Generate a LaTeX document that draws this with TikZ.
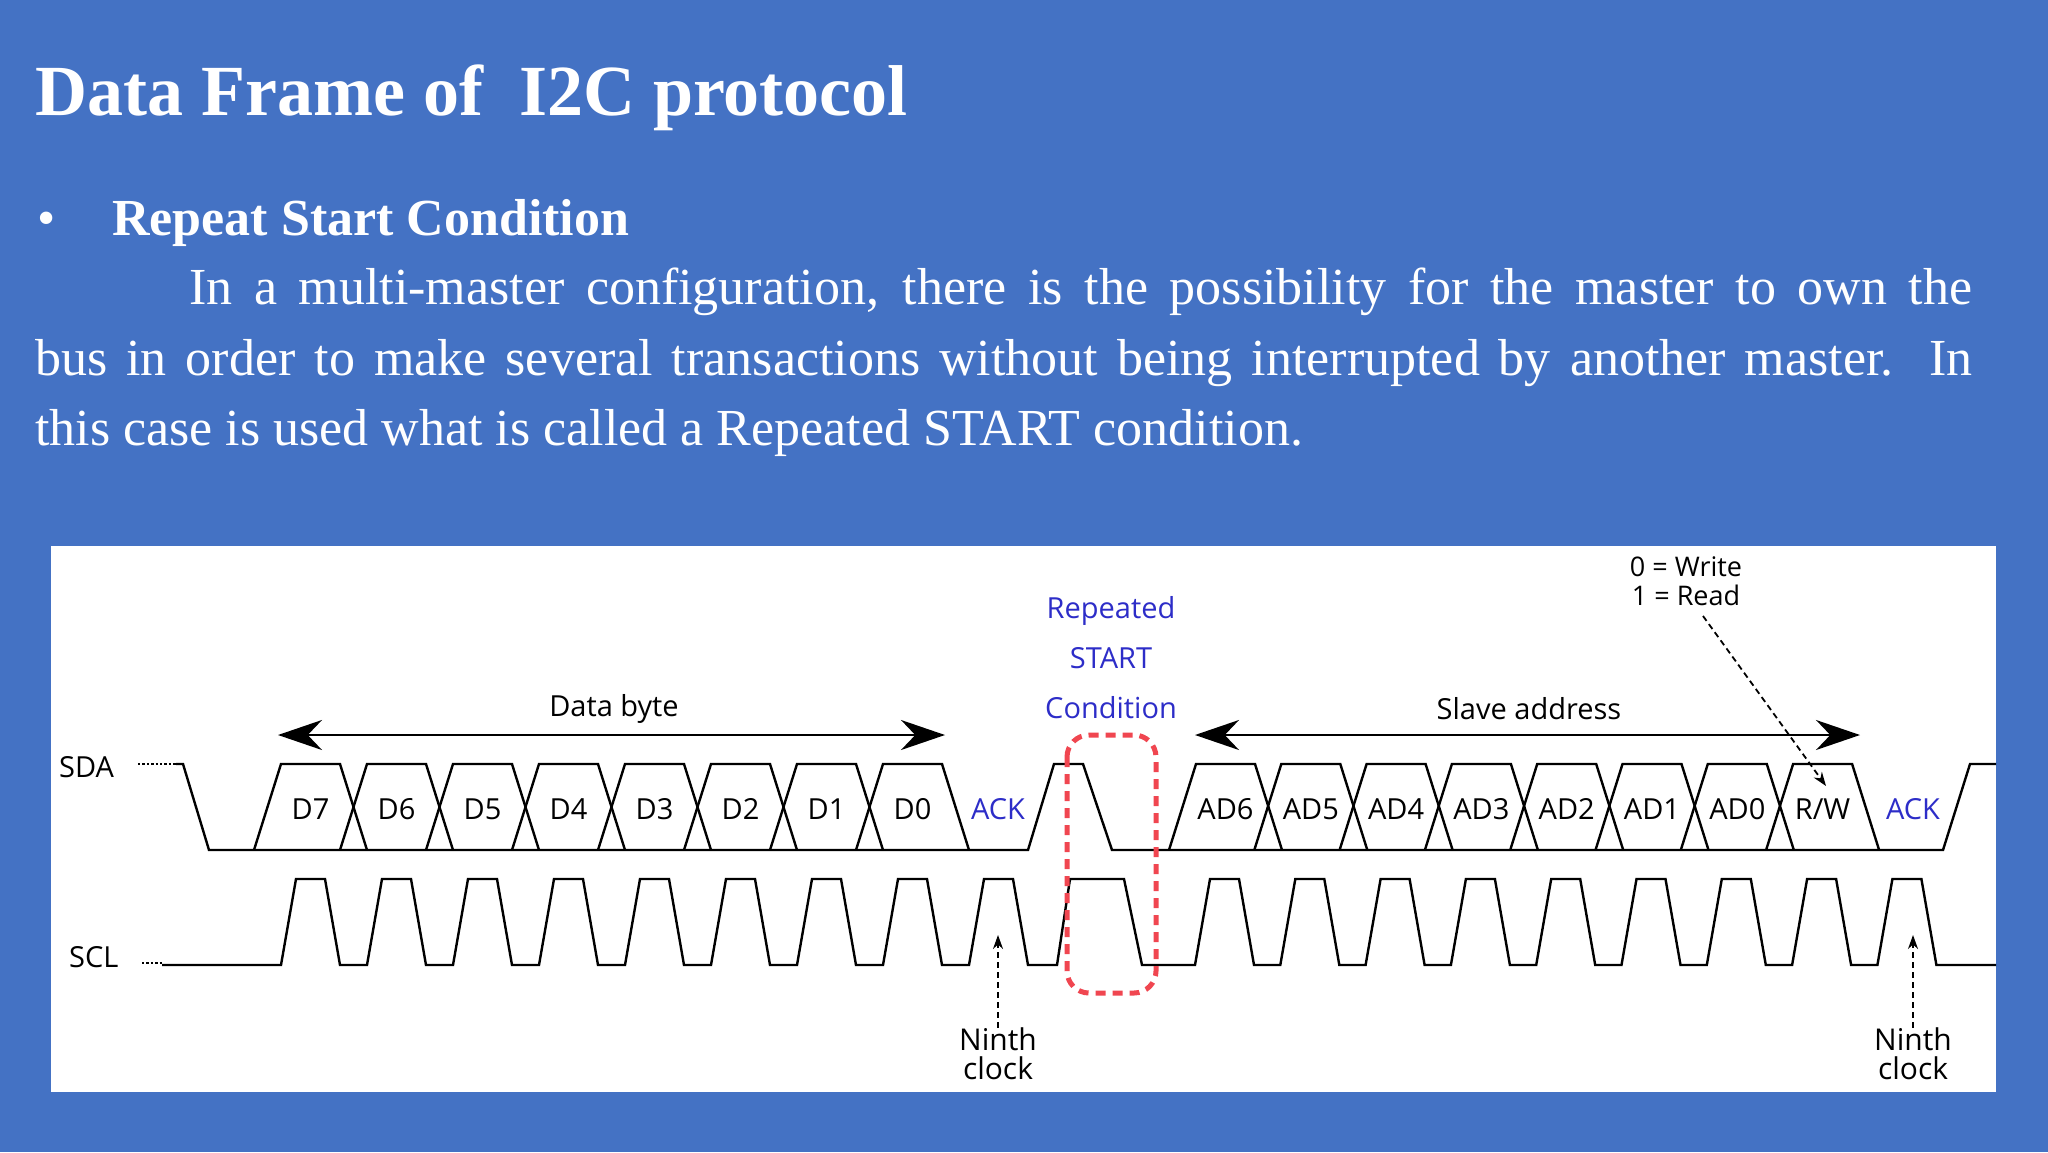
\documentclass[tikz,border=0pt]{standalone}
\usepackage{fontspec}
\setmainfont{Liberation Serif}
\newfontfamily\dsans{Open Sans}
\usetikzlibrary{arrows.meta}
\definecolor{bg}{RGB}{68,114,196}
\definecolor{ackblue}{RGB}{45,45,200}
\definecolor{rsred}{RGB}{240,70,80}
\tikzset{
  wave/.style={line width=2.4pt, line join=miter},
  lbl/.style={font=\dsans\fontsize{29}{34}\selectfont, inner sep=0pt},
  blbl/.style={lbl, text=ackblue},
  bigarrow/.style={line width=2.4pt, {Stealth[length=44pt,width=30pt]}-{Stealth[length=44pt,width=30pt]}},
  dasharrow/.style={line width=1.8pt, dash pattern=on 6pt off 4pt, -{Stealth[length=14pt,width=10pt]}},
  rsbox/.style={draw=rsred, line width=5pt, dash pattern=on 10pt off 7pt, rounded corners=22pt},
  white text/.style={text=white, inner sep=0pt}
}
\begin{document}
\begin{tikzpicture}[x=1pt,y=-1pt]
\useasboundingbox (0,0) rectangle (2048,1152);
\fill[bg] (0,0) rectangle (2048,1152);
\fill[white] (51,546) rectangle (1996,1092);
% texts
\node[white text, anchor=base west, font=\bfseries\fontsize{72}{80}\selectfont] (title) at (35,115) {Data Frame of \ I2C protocol};
\node[white text, anchor=base west, font=\fontsize{52}{60}\selectfont] (bul) at (37,235) {•};
\node[white text, anchor=base west, font=\bfseries\fontsize{52}{60}\selectfont] (head) at (112,235) {Repeat Start Condition};
\node[white text, anchor=base west, font=\fontsize{52}{60}\selectfont] (l1) at (189,304) {\makebox[1783pt][s]{In a multi-master configuration, there is the possibility for the master to own the}};
\node[white text, anchor=base west, font=\fontsize{52}{60}\selectfont] (l2) at (35,375) {\makebox[1937pt][s]{bus in order to make several transactions without being interrupted by another master. In}};
\node[white text, anchor=base west, font=\fontsize{52}{60}\selectfont] (l3) at (35,445) {this case is used what is called a Repeated START condition.};
% SDA
\node[lbl, anchor=west] (sda) at (59,767) {SDA};
\node[lbl, anchor=west] (scl) at (69,957) {SCL};
\draw[wave, dotted] (138,764) -- (176,764);
\draw[wave, dotted] (142,963) -- (162,963);
\draw[wave] (176,764) -- (183,764) -- (209,850) -- (1028,850) -- (1054,764) -- (1083,764) -- (1112,850) -- (1943,850) -- (1970,764) -- (1996,764);
\foreach \n [count=\i from 0] in {D7,D6,D5,D4,D3,D2,D1,D0}{
  \pgfmathsetmacro{\b}{254+86*\i}
  \draw[wave] (\b,850) -- (\b+27,764) -- (\b+86,764) -- (\b+113,850);
  \node[lbl] (d\i) at (\b+56.5,809) {\n};
}
\foreach \n [count=\i from 0] in {AD6,AD5,AD4,AD3,AD2,AD1,AD0,R/W}{
  \pgfmathsetmacro{\b}{1169+85.3*\i}
  \draw[wave] (\b,850) -- (\b+27,764) -- (\b+86,764) -- (\b+113,850);
  \node[lbl] (a\i) at (\b+56.5,809) {\n};
}
\node[blbl] (ack1) at (998,809) {ACK};
\node[blbl] (ack2) at (1913,809) {ACK};
% SCL
\draw[wave] (162,965) foreach \i in {0,...,8}{ -- ({281+86*\i},965) -- ({296+86*\i},879) -- ({325+86*\i},879) -- ({340+86*\i},965) }
  -- (1057,965) -- (1070,879) -- (1124,879) -- (1142,965)
  foreach \i in {0,...,8}{ -- ({1195+85.3*\i},965) -- ({1210+85.3*\i},879) -- ({1239+85.3*\i},879) -- ({1254+85.3*\i},965) }
  -- (1996,965);
% repeated start box
\draw[rsbox] (1067,735) rectangle (1156,993);
\node[blbl, align=center, font=\dsans\fontsize{29}{50}\selectfont] (rs) at (1111,658) {Repeated\\START\\Condition};
% arrows
\coordinate (db1) at (278,735); \coordinate (db2) at (945,735);
\draw[bigarrow] (db1) -- (db2);
\node[lbl] (dbl) at (614,709) {Data byte};
\coordinate (sa1) at (1195,735); \coordinate (sa2) at (1860,735);
\draw[bigarrow] (sa1) -- (sa2);
\node[lbl] (sal) at (1529,709) {Slave address};
\node[lbl, align=center, font=\dsans\fontsize{27}{29}\selectfont] (rw) at (1686,581) {0 = Write\\1 = Read};
\coordinate (rwt) at (1826,786);
\draw[dasharrow] (1703,616) -- (rwt);
\node[lbl, align=center, font=\dsans\fontsize{30}{29}\selectfont] (n1) at (998,1054) {Ninth\\clock};
\node[lbl, align=center, font=\dsans\fontsize{30}{29}\selectfont] (n2) at (1913,1054) {Ninth\\clock};
\coordinate (c1) at (998,935); \coordinate (c2) at (1913,935);
\draw[dasharrow] (n1.north) -- (c1);
\draw[dasharrow] (n2.north) -- (c2);
\end{tikzpicture}
\end{document}
